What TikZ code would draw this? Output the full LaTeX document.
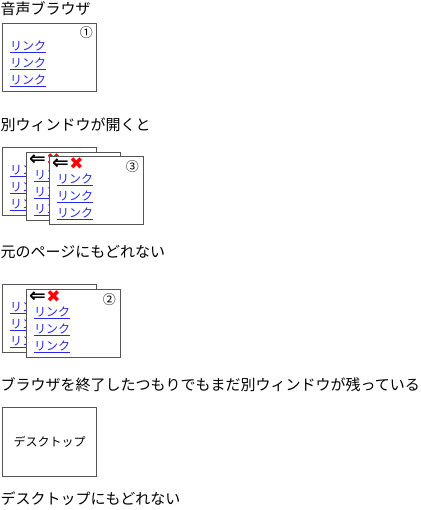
\documentclass[tikz,border=0pt]{standalone}
\usepackage{fontspec}
\setmainfont{Noto Sans CJK JP}
\newfontfamily\symfont{DejaVu Sans}
\definecolor{linkblue}{RGB}{40,40,235}
\definecolor{framegray}{RGB}{85,85,85}
\tikzset{
  win/.style={draw=framegray, line width=1.3pt, fill=white, inner sep=0pt,
    minimum width=94pt, minimum height=68pt, anchor=north west},
  title/.style={anchor=west, inner sep=0pt, font=\fontsize{15}{15}\selectfont},
  lnk/.style={anchor=west, inner sep=0pt, text=linkblue, font=\fontsize{12}{12}\selectfont},
  num/.style={inner sep=0pt, font=\fontsize{13}{13}\selectfont},
  backarrow/.style={anchor=west, inner sep=0pt, font=\symfont\bfseries\fontsize{20}{20}\selectfont},
  crossmark/.style={anchor=west, inner sep=0pt, text=red, font=\symfont\fontsize{17}{17}\selectfont},
}
% #1 name, #2 left, #3 top
\newcommand\mywin[3]{%
  \node[win] (#1) at (#2,#3) {};
  \node[lnk] (#1-l1) at ([shift={(8,23.5)}]#1.north west) {\underline{リンク}};
  \node[lnk] (#1-l2) at ([shift={(8,40.5)}]#1.north west) {\underline{リンク}};
  \node[lnk] (#1-l3) at ([shift={(8,57.5)}]#1.north west) {\underline{リンク}};
}
\newcommand\mybar[1]{%
  \node[backarrow] (#1-back) at ([shift={(3,8)}]#1.north west) {⇐};
  \node[crossmark] (#1-x) at ([xshift=0pt]#1-back.east) {✖};
}
\begin{document}
\begin{tikzpicture}[x=1pt,y=-1pt]
\useasboundingbox (0,0) rectangle (420,510);
% section 1
\node[title] (t1) at (0.5,9) {音声ブラウザ};
\mywin{w1}{2}{23}
\node[num] (w1-n) at ([shift={(-11,10)}]w1.north east) {①};
% section 2
\node[title] (t2) at (0.5,125) {別ウィンドウが開くと};
\mywin{w2a}{2}{147}
\mywin{w2b}{26}{152}
\mybar{w2b}
\mywin{w2c}{49}{156}
\mybar{w2c}
\node[num] (w2c-n) at ([shift={(-12,11)}]w2c.north east) {③};
% section 3
\node[title] (t3) at (0.5,252) {元のページにもどれない};
\mywin{w3a}{2}{284}
\mywin{w3b}{26}{289}
\mybar{w3b}
\node[num] (w3b-n) at ([shift={(-12,11)}]w3b.north east) {②};
% section 4
\node[title] (t4) at (0.5,385) {ブラウザを終了したつもりでもまだ別ウィンドウが残っている};
\node[win, minimum height=69pt] (desk) at (2,407) {};
\node[inner sep=0pt, font=\fontsize{12}{12}\selectfont] (desk-t) at (desk.center) {デスクトップ};
% section 5
\node[title] (t5) at (0.5,499) {デスクトップにもどれない};
\end{tikzpicture}
\end{document}
